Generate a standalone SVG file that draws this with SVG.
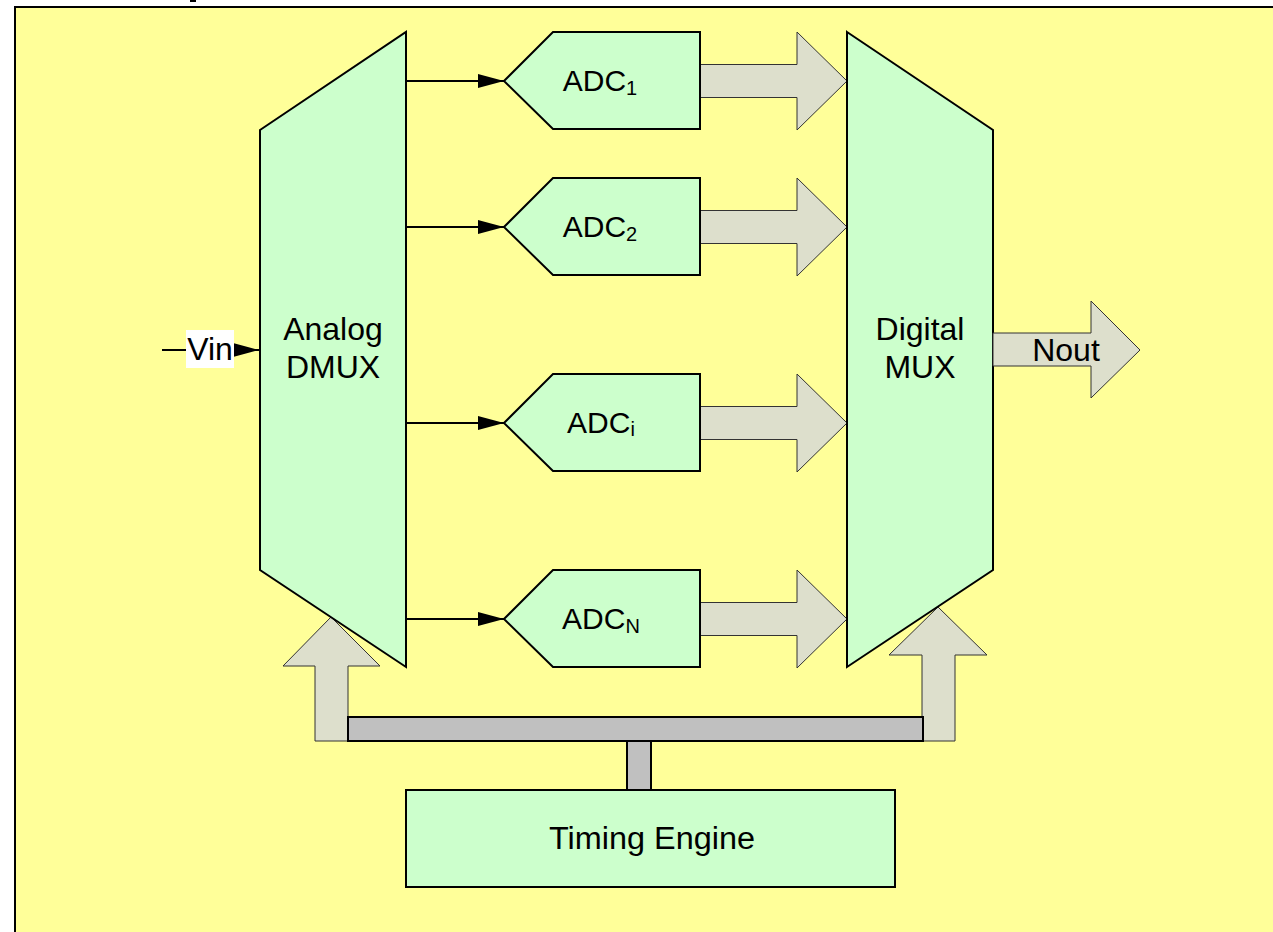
<svg xmlns="http://www.w3.org/2000/svg" width="1273" height="932" viewBox="0 0 1273 932">
<style>
.blk{fill:#CCFFCC;stroke:#000;stroke-width:2}
.fat{fill:#DDDFCC;stroke:#333;stroke-width:1}
.bar{fill:#C0C0C0;stroke:#000;stroke-width:2}
.ln{stroke:#000;stroke-width:2;fill:none}
text{font-family:"Liberation Sans",Arial,sans-serif;fill:#000}
.lbl{font-size:32px;text-anchor:middle}
.adc{font-size:30px;text-anchor:middle}
.sub{font-size:20px}
</style>
<defs>
<marker id="ah" markerWidth="26" markerHeight="16" refX="26" refY="8" orient="auto" markerUnits="userSpaceOnUse">
<path d="M0,1 L26,8 L0,15 Z" fill="#000"/>
</marker>
</defs>
<rect x="0" y="0" width="1273" height="932" fill="#fff"/>
<rect x="15" y="7" width="1280" height="940" fill="#FFFF99" stroke="#000" stroke-width="2"/>
<rect x="190" y="0" width="6" height="2" fill="#000"/>

<g id="connectors">
<path class="ln" d="M406,81 H504" marker-end="url(#ah)"/>
<path class="ln" d="M406,227 H504" marker-end="url(#ah)"/>
<path class="ln" d="M406,423 H504" marker-end="url(#ah)"/>
<path class="ln" d="M406,619 H504" marker-end="url(#ah)"/>
<path class="ln" d="M162,350 H259" marker-end="url(#ah)"/>
<polygon class="fat" points="700,64.5 797,64.5 797,32 847,81 797,130 797,97.5 700,97.5"/>
<polygon class="fat" points="700,210.5 797,210.5 797,178 847,227 797,276 797,243.5 700,243.5"/>
<polygon class="fat" points="700,406.5 797,406.5 797,374 847,423 797,472 797,439.5 700,439.5"/>
<polygon class="fat" points="700,602.5 797,602.5 797,570 847,619 797,668 797,635.5 700,635.5"/>
<polygon class="fat" points="315,741 315,666 283,666 331,617 380,666 348,666 348,741"/>
<polygon class="fat" points="922,741 922,655 889,655 938,607 987,655 955,655 955,741"/>
<rect class="bar" x="627" y="741" width="24" height="49" stroke-width="1"/>
<rect class="bar" x="348" y="717" width="575" height="24"/>
</g>

<g id="vin">
<rect x="186" y="330" width="48" height="38" fill="#fff"/>
<text x="210" y="360" class="lbl">Vin</text>
</g>

<g id="dmux">
<polygon class="blk" points="260,130 406,32 406,667 260,570"/>
<text x="333" y="340" class="lbl">Analog</text>
<text x="333" y="378" class="lbl">DMUX</text>
</g>

<g id="mux">
<polygon class="blk" points="847,32 993,130 993,570 847,667"/>
<text x="920" y="340" class="lbl">Digital</text>
<text x="920" y="378" class="lbl">MUX</text>
</g>

<g id="adc1">
<polygon class="blk" points="504,81 553,32 700,32 700,129 553,129"/>
<text x="600" y="91" class="adc">ADC<tspan class="sub" dy="4">1</tspan></text>
</g>
<g id="adc2">
<polygon class="blk" points="504,227 553,178 700,178 700,275 553,275"/>
<text x="600" y="237" class="adc">ADC<tspan class="sub" dy="4">2</tspan></text>
</g>
<g id="adci">
<polygon class="blk" points="504,423 553,374 700,374 700,471 553,471"/>
<text x="601" y="433" class="adc">ADC<tspan class="sub" dy="3">i</tspan></text>
</g>
<g id="adcn">
<polygon class="blk" points="504,619 553,570 700,570 700,667 553,667"/>
<text x="601" y="629" class="adc">ADC<tspan class="sub" dy="4">N</tspan></text>
</g>

<g id="nout">
<polygon class="fat" points="993,333 1091,333 1091,301 1140,350 1091,398 1091,366 993,366"/>
<text x="1066" y="361" class="lbl">Nout</text>
</g>

<g id="timing">
<rect class="blk" x="406" y="790" width="489" height="97"/>
<text x="549" y="849" style="font-size:31px" textLength="206" lengthAdjust="spacingAndGlyphs">Timing Engine</text>
</g>
</svg>
